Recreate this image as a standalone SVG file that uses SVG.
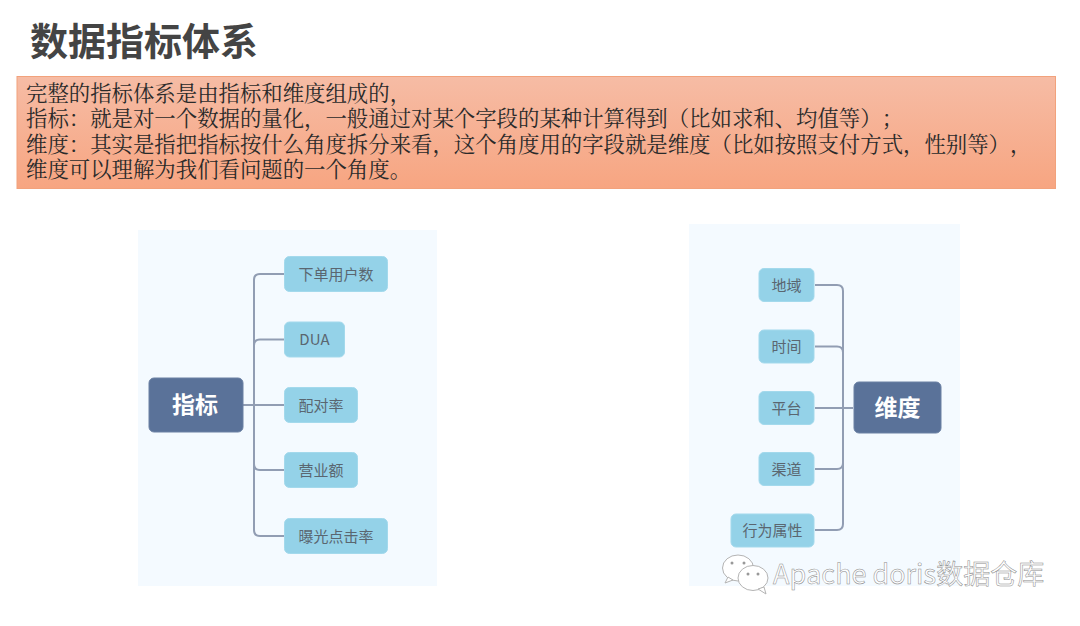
<svg xmlns="http://www.w3.org/2000/svg" width="1080" height="626" viewBox="0 0 1080 626">
<style>
text{font-family:"Noto Sans CJK SC","Liberation Sans",sans-serif;text-spacing-trim:space-all;font-kerning:none}
.panel{fill:#f4faff}
.leaf{fill:#94d2e8;stroke:#a3d9ec;stroke-width:1}
.root{fill:#5a7299;stroke:#6a80a3;stroke-width:1}
.lt{font-size:15px;fill:#5a6670;text-anchor:middle}
.rt{font-size:23px;font-weight:700;fill:#fff;text-anchor:middle}
.body{font-family:"Noto Serif CJK SC","Noto Sans CJK SC",serif;font-size:21.400px;fill:#2a2a2a}
.conn{fill:none;stroke:#919db3;stroke-width:2}
</style>
<defs>
<linearGradient id="g" x1="0" y1="0" x2="0" y2="1"><stop offset="0" stop-color="#f6bca5"/><stop offset="1" stop-color="#f7a581"/></linearGradient>
</defs>
<rect width="1080" height="626" fill="#fff"/>
<g id="title"><text x="30" y="55" font-size="38" font-weight="700" fill="#444">数据指标体系</text></g>
<g id="intro">
<rect x="17" y="76.500" width="1038.500" height="112" fill="url(#g)" stroke="#f2a27c" stroke-width="1"/>
<text class="body" x="26" y="101">完整的指标体系是由指标和维度组成的，</text>
<text class="body" x="26" y="126">指标：就是对一个数据的量化，一般通过对某个字段的某种计算得到（比如求和、均值等）；</text>
<text class="body" x="26" y="152">维度：其实是指把指标按什么角度拆分来看，这个角度用的字段就是维度（比如按照支付方式，性别等），</text>
<text class="body" x="26" y="177">维度可以理解为我们看问题的一个角度。</text>
</g>
<rect class="panel" x="138" y="230" width="299" height="356"/>
<rect class="panel" x="689" y="224" width="271" height="362"/>
<g id="connectors">
<path class="conn" d="M243 405H284M284 274H260Q254 274 254 280V530Q254 536 260 536H284M284 339.500H260Q254 339.500 254 345.500M254 464V464Q254 470 260 470H284"/>
<path class="conn" d="M815 285H837Q843 285 843 291V524Q843 530 837 530H815M815 346.500H837Q843 346.500 843 352.500M815 408H853M815 469H837Q843 469 843 463"/>
</g>
<g id="n-zb"><rect class="root" x="149" y="378" width="94" height="54" rx="5"/><text class="rt" x="195" y="413">指标</text></g>
<g id="n-xd"><rect class="leaf" x="284.500" y="256.500" width="103" height="35" rx="5"/><text class="lt" x="336" y="279.500">下单用户数</text></g>
<g id="n-dua"><rect class="leaf" x="284.500" y="322" width="60" height="35" rx="5"/><text class="lt" x="314.500" y="345">DUA</text></g>
<g id="n-pd"><rect class="leaf" x="284.500" y="387.500" width="73" height="35" rx="5"/><text class="lt" x="321" y="410.500">配对率</text></g>
<g id="n-yy"><rect class="leaf" x="284.500" y="452.500" width="73" height="35" rx="5"/><text class="lt" x="321" y="475.500">营业额</text></g>
<g id="n-bg"><rect class="leaf" x="284.500" y="518.500" width="103" height="35" rx="5"/><text class="lt" x="336" y="541.500">曝光点击率</text></g>
<g id="n-wd"><rect class="root" x="854" y="382" width="87" height="51" rx="5"/><text class="rt" x="897.500" y="416">维度</text></g>
<g id="n-dy"><rect class="leaf" x="759" y="268.500" width="55" height="33" rx="5"/><text class="lt" x="786.500" y="290.500">地域</text></g>
<g id="n-sj"><rect class="leaf" x="759" y="330" width="55" height="33" rx="5"/><text class="lt" x="786.500" y="352">时间</text></g>
<g id="n-pt"><rect class="leaf" x="759" y="391.500" width="55" height="33" rx="5"/><text class="lt" x="786.500" y="413.500">平台</text></g>
<g id="n-qd"><rect class="leaf" x="759" y="452.500" width="55" height="33" rx="5"/><text class="lt" x="786.500" y="474.500">渠道</text></g>
<g id="n-xw"><rect class="leaf" x="731" y="514" width="83" height="33" rx="5"/><text class="lt" x="772.500" y="536">行为属性</text></g>
<g id="watermark">
<g fill="#fff" stroke="#b4b4b4" stroke-width="1">
<ellipse cx="738" cy="568" rx="15.500" ry="13"/>
<path d="M728 577l-3 6 8-3z"/>
<ellipse cx="753" cy="578" rx="15" ry="12.500"/>
<path d="M758 589l8 5-2-7z"/>
</g>
<g fill="#999"><circle cx="732" cy="563" r="1.500"/><circle cx="744" cy="563" r="1.500"/><circle cx="748" cy="574" r="1.500"/><circle cx="758" cy="574" r="1.500"/></g>
<text x="773" y="584" font-size="27" fill="#fff" stroke="#8a8a8a" stroke-width=".5">Apache doris数据仓库</text>
</g>
</svg>
